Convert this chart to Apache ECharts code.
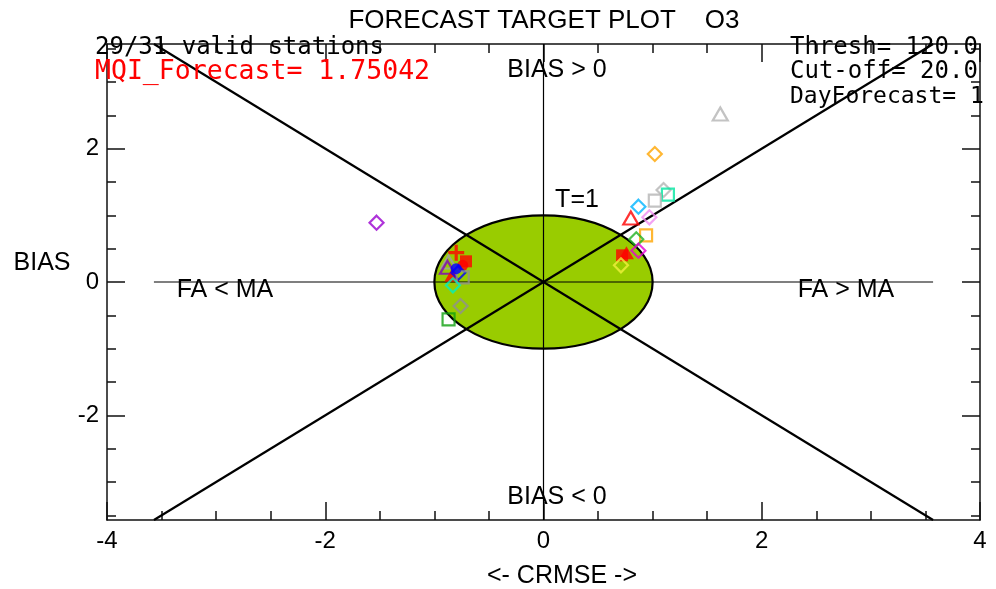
<!DOCTYPE html>
<html>
<head>
<meta charset="utf-8">
<script src="https://cdn.jsdelivr.net/npm/echarts@6/dist/echarts.min.js"></script>
<style>html,body{margin:0;padding:0;background:#fff}#c{width:996px;height:589px}</style>
</head>
<body>
<div id="c"></div>
<script>
// ---- data ----
const xTicks = [-4, -2, 0, 2, 4];
const yTicks = [-2, 0, 2];
const yMinorTicks = [-3.5, -3, -2.5, -1.5, -1, -0.5, 0.5, 1, 1.5, 2.5, 3, 3.5];
const axisRange = 3.57;   // extent of the guide lines (data units)
const targetRadius = 1;   // T=1 circle

// station points: CRMSE (x) and BIAS (y)
const crmse = [1.62, 1.02, 1.10, 1.14, 1.02, 0.87, 0.80, 0.97, 0.94, 0.85, 0.87, 0.72, 0.76, 0.71,
               -1.53, -0.80, -0.71, -0.74, -0.87, -0.88, -0.84, -0.78, -0.74, -0.83, -0.76, -0.87, -0.80];
const bias  = [2.52, 1.92, 1.38, 1.31, 1.22, 1.13, 0.96, 0.97, 0.70, 0.64, 0.47, 0.40, 0.44, 0.25,
               0.89, 0.44, 0.31, 0.25, 0.30, 0.22, 0.10, 0.14, 0.07, -0.05, -0.36, -0.56, 0.20];
// marker style per station (symbol, colour, filled)
const markerStyles = [
  ['triangle', '#b4b4b4', 0], ['diamond', '#ffa500', 0], ['diamond', '#b4b4b4', 0], ['rect', '#00e6a0', 0],
  ['rect', '#b4b4b4', 0], ['diamond', '#00b4ff', 0], ['triangle', '#ff0000', 0], ['diamond', '#f08cf0', 0],
  ['rect', '#ffa500', 0], ['diamond', '#20b020', 0], ['diamond', '#e600d2', 0], ['rect', '#ff0000', 1],
  ['triangle', '#ff0000', 1], ['diamond', '#f0f03c', 0],
  ['diamond', '#9a00d0', 0], ['plus', '#ff0000', 1], ['rect', '#ff0000', 1], ['circle', '#ff0000', 1],
  ['triangle', '#a0a0a0', 0], ['triangle', '#8000c0', 0], ['triangle', '#ff0000', 1], ['diamond', '#0000ff', 0],
  ['rect', '#909090', 0], ['diamond', '#00f0c0', 0], ['diamond', '#909090', 0], ['rect', '#10a010', 0],
  ['circle', '#0000ff', 1]
];

// ---- chart ----
const chart = echarts.init(document.getElementById('c'));
const plusPath = 'path://M4,0h2v4h4v2h-4v4h-2v-4h-4v-2h4z';
const symSize = {triangle: [15, 13], diamond: 14, rect: 12, circle: 11, plus: 16};

const points = crmse.map((x, i) => {
  const [s, c, f] = markerStyles[i];
  return {
    value: [x, bias[i]],
    symbol: s === 'plus' ? plusPath : s,
    symbolSize: symSize[s],
    itemStyle: f ? {color: c, borderColor: c, borderWidth: 0}
                 : {color: 'rgba(0,0,0,0)', borderColor: c, borderWidth: 2.2}
  };
});

const lineStyleThin = {color: '#000', width: 1.2};
const lineStyleThick = {color: '#000', width: 2.2};
const guide = (data, style) => ({
  type: 'line', data, symbol: 'none', silent: true, animation: false,
  lineStyle: style, z: 3, clip: true
});

const sansFont = '25px "Liberation Sans"';
const txt = (text, x, y, opt) => ({
  type: 'text', x, y, silent: true, z: 100,
  style: Object.assign({text, fill: '#000', font: sansFont, textAlign: 'left', textVerticalAlign: 'middle'}, opt || {})
});

const monoFont = '24px "DejaVu Sans Mono"';
const tickColor = '#111';
const axisLineStyle = {show: true, onZero: false, lineStyle: {color: tickColor, width: 1.5}};
const noLine = {show: false, onZero: false};

chart.setOption({
  animation: false,
  grid: {left: 107, right: 16, top: 44, bottom: 69, containLabel: false, outerBoundsMode: 'none'},
  xAxis: [
    {type: 'value', min: xTicks[0], max: xTicks[xTicks.length - 1], interval: 2, position: 'bottom',
     axisLine: axisLineStyle, splitLine: {show: false},
     axisTick: {inside: true, length: 18, lineStyle: {color: tickColor, width: 1.5}},
     minorTick: {show: true, splitNumber: 4, length: 9, lineStyle: {color: tickColor, width: 1.5}},
     axisLabel: {color: '#000', fontSize: 24, fontFamily: 'Liberation Sans', margin: 9,
                 formatter: v => String(v)}},
    {type: 'value', min: xTicks[0], max: xTicks[xTicks.length - 1], interval: 2, position: 'top',
     axisLine: axisLineStyle, splitLine: {show: false},
     axisTick: {inside: true, length: 18, lineStyle: {color: tickColor, width: 1.5}},
     minorTick: {show: true, splitNumber: 4, length: 9, lineStyle: {color: tickColor, width: 1.5}},
     axisLabel: {show: false}}
  ],
  yAxis: [
    {type: 'value', min: -axisRange, max: axisRange, position: 'left',
     axisLine: axisLineStyle, splitLine: {show: false},
     axisTick: {inside: true, length: 18, customValues: yTicks, lineStyle: {color: tickColor, width: 1.5}},
     axisLabel: {customValues: yTicks, color: '#000', fontSize: 24, fontFamily: 'Liberation Sans', margin: 8,
                 formatter: v => String(v)}},
    {type: 'value', min: -axisRange, max: axisRange, position: 'left',
     axisLine: noLine, splitLine: {show: false},
     axisTick: {inside: true, length: 9, customValues: yMinorTicks, lineStyle: {color: tickColor, width: 1.5}},
     axisLabel: {show: false}},
    {type: 'value', min: -axisRange, max: axisRange, position: 'right',
     axisLine: axisLineStyle, splitLine: {show: false},
     axisTick: {inside: true, length: 18, customValues: yTicks, lineStyle: {color: tickColor, width: 1.5}},
     axisLabel: {show: false}},
    {type: 'value', min: -axisRange, max: axisRange, position: 'right',
     axisLine: noLine, splitLine: {show: false},
     axisTick: {inside: true, length: 9, customValues: yMinorTicks, lineStyle: {color: tickColor, width: 1.5}},
     axisLabel: {show: false}}
  ],
  series: [
    {
      type: 'custom', silent: true, z: 1,
      data: [[0, 0]],
      renderItem: (params, api) => {
        const c = api.coord([api.value(0), api.value(1)]);
        const s = api.size([targetRadius, targetRadius]);
        return {
          type: 'ellipse',
          shape: {cx: c[0], cy: c[1], rx: s[0], ry: s[1]},
          style: {fill: '#99cc00', stroke: '#000', lineWidth: 2.2}
        };
      }
    },
    guide([[-axisRange, 0], [axisRange, 0]], lineStyleThin),
    guide([[0, -axisRange], [0, axisRange]], lineStyleThin),
    guide([[-axisRange, -axisRange], [axisRange, axisRange]], lineStyleThick),
    guide([[-axisRange, axisRange], [axisRange, -axisRange]], lineStyleThick),
    {type: 'scatter', data: points, z: 5, animation: false}
  ],
  graphic: [
    txt('FORECAST TARGET PLOT    O3', 544, 21, {textAlign: 'center', font: '26px "Liberation Sans"'}),
    txt('29/31 valid stations', 95, 48, {font: monoFont}),
    txt('MQI_Forecast= 1.75042', 95, 72, {font: '26.5px "DejaVu Sans Mono"', fill: '#ff0000'}),
    txt('Thresh= 120.0', 790, 48, {font: monoFont}),
    txt('Cut-off= 20.0', 790, 72, {font: monoFont}),
    txt('DayForecast= 1', 790, 97, {font: '23px "DejaVu Sans Mono"'}),
    txt('BIAS > 0', 557, 70, {textAlign: 'center'}),
    txt('BIAS < 0', 557, 497, {textAlign: 'center'}),
    txt('T=1', 577, 200, {textAlign: 'center'}),
    txt('FA < MA', 225, 290, {textAlign: 'center'}),
    txt('FA > MA', 846, 290, {textAlign: 'center'}),
    txt('BIAS', 42, 263, {textAlign: 'center'}),
    txt('<- CRMSE ->', 562, 576, {textAlign: 'center'})
  ]
});
</script>
</body>
</html>
